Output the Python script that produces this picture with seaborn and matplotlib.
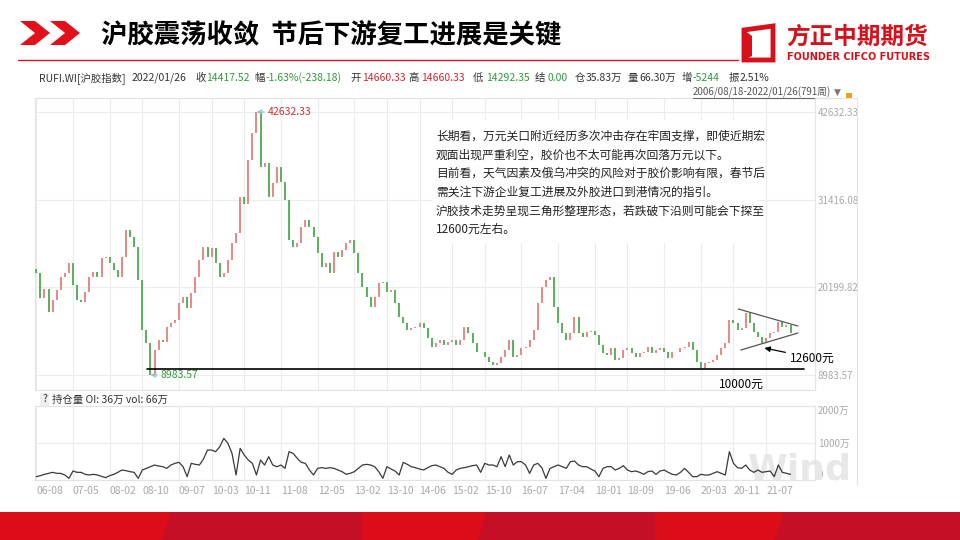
import numpy as np
import pandas as pd
import seaborn as sns
import matplotlib.pyplot as plt
from matplotlib.patches import Polygon, Rectangle
from matplotlib.lines import Line2D

sns.set_theme(style='white')
plt.rcParams['font.family'] = ['Noto Sans CJK SC', 'DejaVu Sans']

W, H = 960, 540


def fx(x):
    return x / W


def fy(y):
    return 1 - y / H


def rect(x0, y0, x1, y1):
    return [fx(x0), fy(y1), (x1 - x0) / W, (y1 - y0) / H]


# 沪胶指数 月度收盘
months = pd.period_range('2006-08', '2022-01', freq='M')
first_open = 22600
close = [21990, 18800, 20000, 17000, 18580, 19850, 21560, 21990, 23260, 20500,
         18580, 18350, 19640, 21560, 22200, 21560, 23900, 24120, 23260, 22410,
         21560, 24120, 27530, 26680, 25400, 21130, 14740, 13030, 8983.57, 12180,
         13460, 13200, 15170, 15590, 16020, 18150, 19000, 17500, 19430, 21560,
         23690, 25400, 24120, 25190, 23260, 21560, 21990, 23690, 25820, 27100,
         31790, 30900, 36480, 39890, 42632.33, 35620, 36050, 31790, 33500, 35620,
         33710, 31360, 26250, 25400, 25820, 27950, 28800, 27950, 26680, 24540,
         22840, 23260, 21990, 24760, 24120, 24970, 25820, 26250, 24540, 21990,
         20280, 19000, 17720, 19000, 20710, 20920, 19640, 19850, 18150, 16440,
         15590, 14740, 14950, 15170, 15590, 14950, 13670, 12610, 13030, 13460,
         12820, 13250, 13460, 12820, 13460, 15170, 14310, 13030, 11970, 11900,
         11330, 10690, 10260, 10480, 11330, 12180, 13460, 11330, 11540, 12390,
         12610, 13460, 14740, 18150, 20280, 21130, 21560, 17720, 15590, 14310,
         13460, 14310, 16440, 14310, 13890, 14520, 14600, 14100, 12820, 11750,
         11540, 12390, 10900, 11120, 12180, 12390, 11750, 11330, 11750, 11970,
         12610, 11750, 12180, 12390, 11970, 11120, 11970, 11900, 12390, 12610,
         13250, 12180, 10690, 9840, 10480, 10690, 10900, 11540, 12390, 13030,
         16020, 15590, 14740, 14950, 16870, 15590, 14520, 13890, 13030, 13670,
         14310, 14520, 15810, 15170, 15380, 14417.52]

# 持仓量（万）
oi = [90, 117, 153, 180, 207, 180, 180, 135, 45, 243,
      207, 207, 153, 135, 153, 135, 99, 63, 117, 153,
      207, 270, 252, 225, 207, 45, 270, 315, 360, 405,
      378, 360, 315, 405, 450, 477, 360, 90, 450, 423,
      405, 567, 810, 810, 765, 900, 1125, 990, 720, 135,
      855, 675, 540, 450, 135, 540, 405, 630, 405, 360,
      405, 315, 765, 720, 585, 477, 450, 270, 135, 315,
      333, 315, 333, 315, 270, 225, 153, 180, 225, 315,
      405, 423, 405, 360, 225, 45, 360, 297, 243, 135,
      477, 423, 360, 333, 297, 270, 333, 387, 405, 360,
      315, 207, 153, 270, 315, 333, 360, 387, 405, 207,
      450, 405, 405, 360, 630, 360, 675, 405, 495, 495,
      405, 180, 405, 450, 333, 45, 315, 360, 405, 360,
      315, 495, 513, 405, 360, 360, 297, 243, 90, 315,
      360, 360, 270, 315, 387, 270, 225, 243, 207, 153,
      225, 243, 153, 243, 270, 207, 153, 135, 207, 315,
      207, 90, 90, 153, 135, 135, 180, 225, 180, 135,
      765, 450, 333, 315, 405, 270, 207, 270, 207, 225,
      243, 90, 405, 207, 180, 153]

tick_labels = ['06-08', '07-05', '08-02', '08-10', '09-07', '10-03', '10-11', '11-08',
               '12-05', '13-02', '13-10', '14-06', '15-02', '15-10', '16-07', '17-04',
               '18-01', '18-09', '19-06', '20-03', '20-11', '21-07']
y_ticks = [8983.57, 20199.82, 31416.08, 42632.33]
oi_ticks = [0, 1000, 2000]
oi_tick_labels = ['0', '1000万', '2000万']

peak, peak_month = 42632.33, '2011-02'
trough, trough_month = 8983.57, '2008-12'
support = 9750
tri_upper = [('2020-12', 17425), ('2022-01', 15250)]
tri_lower = [('2021-02', 12180), ('2022-01', 14355)]

title = '沪胶震荡收敛  节后下游复工进展是关键'
note_lines = ['长期看，万元关口附近经历多次冲击存在牢固支撑，即使近期宏',
              '观面出现严重利空，胶价也不太可能再次回落万元以下。',
              '目前看，天气因素及俄乌冲突的风险对于胶价影响有限，春节后',
              '需关注下游企业复工进展及外胶进口到港情况的指引。',
              '沪胶技术走势呈现三角形整理形态，若跌破下沿则可能会下探至',
              '12600元左右。']

RED, GREEN, GRAY, DARK = '#d0282c', '#2f9a3a', '#9a9a9a', '#333333'
info = [(39, 'RUFI.WI[沪胶指数]', DARK), (132, '2022/01/26', DARK),
        (195, '收', DARK), (206, '14417.52', GREEN),
        (254, '幅', DARK), (266, '-1.63%(-238.18)', GREEN),
        (350, '开', DARK), (362, '14660.33', RED),
        (408, '高', DARK), (421, '14660.33', RED),
        (473, '低', DARK), (486, '14292.35', GREEN),
        (535, '结', DARK), (547, '0.00', GREEN),
        (575, '仓', DARK), (586, '35.83万', DARK),
        (628, '量', DARK), (639, '66.30万', DARK),
        (682, '增', DARK), (693, '-5244', GREEN),
        (729, '振', DARK), (740, '2.51%', DARK)]

mlist = list(months.strftime('%Y-%m'))
short = list(months.strftime('%y-%m'))


def mi(m):
    return mlist.index(m)


x = np.arange(len(close))
tick_pos = [short.index(t) for t in tick_labels]

fig = plt.figure(figsize=(9.6, 5.4), dpi=100)
fig.patch.set_facecolor('white')

# ---- 顶部标题栏 ----
for dx in (0, 30):
    pts = [(20 + dx, 21), (35 + dx, 21), (50 + dx, 33), (35 + dx, 45), (20 + dx, 45), (35 + dx, 33)]
    fig.add_artist(Polygon([(fx(a), fy(b)) for a, b in pts], closed=True,
                           transform=fig.transFigure, color='#e3101c', lw=0))
fig.text(fx(101), fy(35), title, fontsize=19, weight='bold', color='black', va='center')
fig.add_artist(Line2D([fx(18), fx(738)], [fy(60), fy(60)], color='#d9141e', lw=1.0))

# logo
fig.add_artist(Polygon([(fx(a), fy(b)) for a, b in
                        [(744, 30), (773, 26), (773, 60), (744, 60)]],
                       closed=True, fill=False, ec='#d7111b', lw=3.5, transform=fig.transFigure))
fig.add_artist(Polygon([(fx(a), fy(b)) for a, b in
                        [(744, 30), (752, 36), (752, 56), (744, 60)]],
                       closed=True, color='#d7111b', lw=0, transform=fig.transFigure))
fig.text(fx(786), fy(37), '方正中期期货', fontsize=17, weight='bold', color='#d7111b', va='center')
fig.text(fx(787), fy(57), 'FOUNDER CIFCO FUTURES', fontsize=7, weight='bold',
         color='#d7111b', va='center', family='DejaVu Sans')

# ---- 行情信息行 ----
for xp, s, c in info:
    fig.text(fx(xp), fy(78), s, fontsize=7.5, color=c, va='center')
fig.text(fx(693), fy(92), '2006/08/18-2022/01/26(791周)', fontsize=7, color='#555555', va='center')
fig.add_artist(Line2D([fx(693), fx(829)], [fy(98), fy(98)], color='#666666', lw=0.8))
fig.text(fx(834), fy(92), '▼', fontsize=6.5, color='#777777', va='center', family='DejaVu Sans')
fig.add_artist(Rectangle((fx(846), fy(98)), 6 / W, 5 / H, color='#f0a020', lw=0,
                         transform=fig.transFigure))

# ---- 主图：K线 ----
ax = fig.add_axes(rect(35, 98, 815, 390))
px = (peak - trough) / 263
ax.set_ylim(trough - 15 * px, peak + 14 * px)
ax.set_xlim(-0.32, 191.0)
opens = [first_open] + close[:-1]
lo = np.minimum(opens, close)
hi = np.maximum(opens, close)
colors = ['#e68a8a' if c >= o else '#5db35d' for o, c in zip(opens, close)]
ax.bar(x, np.maximum(hi - lo, 60), bottom=lo, width=0.5, color=colors, linewidth=0, zorder=3)

ax.set_yticks(y_ticks)
ax.set_yticklabels([f'{v:.2f}' for v in y_ticks])
ax.yaxis.tick_right()
ax.tick_params(axis='y', length=0, pad=2, labelsize=7, labelcolor='#a8a8a8')
ax.set_xticks(tick_pos)
ax.set_xticklabels([])
ax.tick_params(axis='x', length=0)
ax.grid(True, color='#ececec', lw=0.8)
for s in ax.spines.values():
    s.set_color('#e3e3e3')
    s.set_linewidth(0.8)

ax.annotate(f'{peak:.2f}', xy=(mi(peak_month), peak), xytext=(8, 0), textcoords='offset points',
            fontsize=7.5, color='#c83232', va='center',
            arrowprops=dict(arrowstyle='->', color='#8bc4d4', lw=0.9, shrinkA=0, shrinkB=0))
ax.annotate(f'{trough:.2f}', xy=(mi(trough_month), trough), xytext=(7, 0), textcoords='offset points',
            fontsize=7.5, color='#2f9a3a', va='center',
            arrowprops=dict(arrowstyle='->', color='#8bc4d4', lw=0.9, shrinkA=0, shrinkB=0))

ax.plot([27.2, 188.3], [support, support], color='black', lw=1.2, zorder=4)
ax.text(172.9, trough - 9 * px, '10000元', fontsize=8.5, ha='center', va='center', color='black')
ax.plot([mi(tri_upper[0][0]) + 0.2, mi(tri_upper[1][0]) + 1.8],
        [tri_upper[0][1], tri_upper[1][1]], color='#555555', lw=0.9, zorder=4)
ax.plot([mi(tri_lower[0][0]) - 1.2, mi(tri_lower[1][0]) + 1.8],
        [tri_lower[0][1], tri_lower[1][1]], color='#555555', lw=0.9, zorder=4)
ax.annotate('12600元', xy=(178.6, 12437), xytext=(184.9, 11158), fontsize=8.5,
            va='center', ha='left', color='black', annotation_clip=False,
            arrowprops=dict(arrowstyle='-|>', color='black', lw=0.9, mutation_scale=8,
                            shrinkA=1, shrinkB=0))

# 说明文字框
fig.add_artist(Rectangle((fx(432), fy(243)), 326 / W, 123 / H, color='white', lw=0,
                         transform=fig.transFigure, zorder=2))
for k, line in enumerate(note_lines):
    fig.text(fx(436), fy(136 + 18.7 * k), line, fontsize=8.5, color='#222222', va='center', zorder=3)

# ---- 副图：持仓量 ----
ax2 = fig.add_axes(rect(35, 406, 815, 480))
sns.lineplot(x=x, y=oi, ax=ax2, color='#3a3a3a', lw=0.9, zorder=3)
ax2.set_xlim(-0.32, 191.0)
ax2.set_ylim(0, 2000)
ax2.set_xlabel('')
ax2.set_ylabel('')
ax2.set_yticks(oi_ticks)
ax2.set_yticklabels(oi_tick_labels)
ax2.yaxis.tick_right()
ax2.tick_params(axis='y', length=0, pad=2, labelsize=7, labelcolor='#a8a8a8')
ylabs = ax2.get_yticklabels()
ylabs[0].set_va('bottom')
ylabs[2].set_va('top')
ax2.set_xticks(tick_pos)
ax2.set_xticklabels(tick_labels, ha='left', fontsize=7.5, color='#a8a8a8')
ax2.tick_params(axis='x', length=0, pad=4)
ax2.grid(True, color='#ececec', lw=0.8)
for s in ax2.spines.values():
    s.set_color('#e3e3e3')
    s.set_linewidth(0.8)
ax2.text(fx(800), fy(470), 'Wind', transform=fig.transFigure, fontsize=26, weight='bold',
         color='#e8e8e8', ha='center', va='center', family='DejaVu Sans', zorder=1)

fig.add_artist(Rectangle((fx(40), fy(406)), 9 / W, 13 / H, color='#eeeeee', lw=0,
                         transform=fig.transFigure))
fig.text(fx(44.5), fy(399.5), '?', fontsize=7.5, color=DARK, ha='center', va='center')
fig.text(fx(52), fy(400), '持仓量 OI: 36万 vol: 66万', fontsize=7.5, color=DARK, va='center')

# 右侧边框
fig.add_artist(Line2D([fx(815), fx(857)], [fy(98), fy(98)], color='#e3e3e3', lw=0.8))
fig.add_artist(Line2D([fx(857), fx(857)], [fy(98), fy(485)], color='#e3e3e3', lw=0.8))

# ---- 底部红色条 ----
fig.add_artist(Rectangle((0, 0), 1, 28 / H, color='#dc0c18', lw=0, transform=fig.transFigure))
for a, b in [(165, 361), (481, 655), (778, 960)]:
    pts = [(a - 3, 540), (a + 6, 512), (b, 512), (b, 540)]
    fig.add_artist(Polygon([(fx(p), fy(q)) for p, q in pts], closed=True, color='#c40f26',
                           lw=0, transform=fig.transFigure))

fig.savefig('out.png', dpi=100, facecolor='white')
